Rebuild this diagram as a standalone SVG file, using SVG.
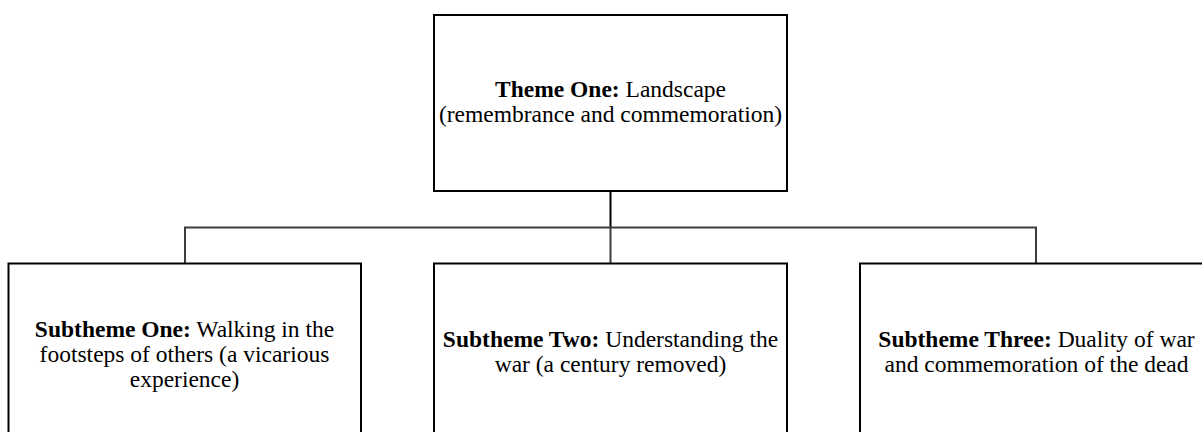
<svg xmlns="http://www.w3.org/2000/svg" width="1202" height="432" viewBox="0 0 1202 432">
<style>
.box{fill:#fff;stroke:#000;stroke-width:2}
.conn{fill:none;stroke:#000;stroke-width:2}
.conn2{fill:none;stroke:#3c3c3c;stroke-width:2}
text{font-size:23.5px;fill:#000;text-anchor:middle}
.b{font-weight:bold}
</style>
<rect width="1202" height="432" fill="#fff"/>
<g id="connectors">
<line class="conn" x1="610.5" y1="191" x2="610.5" y2="228"/>
<polyline class="conn2" points="185,263 185,227.5 1036,227.5 1036,263"/>
<line class="conn2" x1="610.5" y1="227.5" x2="610.5" y2="263"/>
</g>
<g font-family="'Liberation Serif', 'DejaVu Serif', serif">
<g id="theme-one">
<rect class="box" x="434" y="15" width="353" height="176"/>
<text x="610.5" y="97"><tspan class="b">Theme One:</tspan> Landscape</text>
<text x="610.5" y="121.5">(remembrance and commemoration)</text>
</g>
<g id="subtheme-one">
<rect class="box" x="8.5" y="263.5" width="352.5" height="190"/>
<text x="184.5" y="336.5"><tspan class="b">Subtheme One:</tspan> Walking in the</text>
<text x="184.5" y="361.5">footsteps of others (a vicarious</text>
<text x="184.5" y="386.5">experience)</text>
</g>
<g id="subtheme-two">
<rect class="box" x="434" y="263.5" width="353" height="190"/>
<text x="610.5" y="346.5"><tspan class="b">Subtheme Two:</tspan> Understanding the</text>
<text x="610.5" y="371.5">war (a century removed)</text>
</g>
<g id="subtheme-three">
<rect class="box" x="860" y="263.5" width="353" height="190"/>
<text x="1036.5" y="346.5"><tspan class="b">Subtheme Three:</tspan> Duality of war</text>
<text x="1036.5" y="371.5">and commemoration of the dead</text>
</g>
</g>
</svg>
